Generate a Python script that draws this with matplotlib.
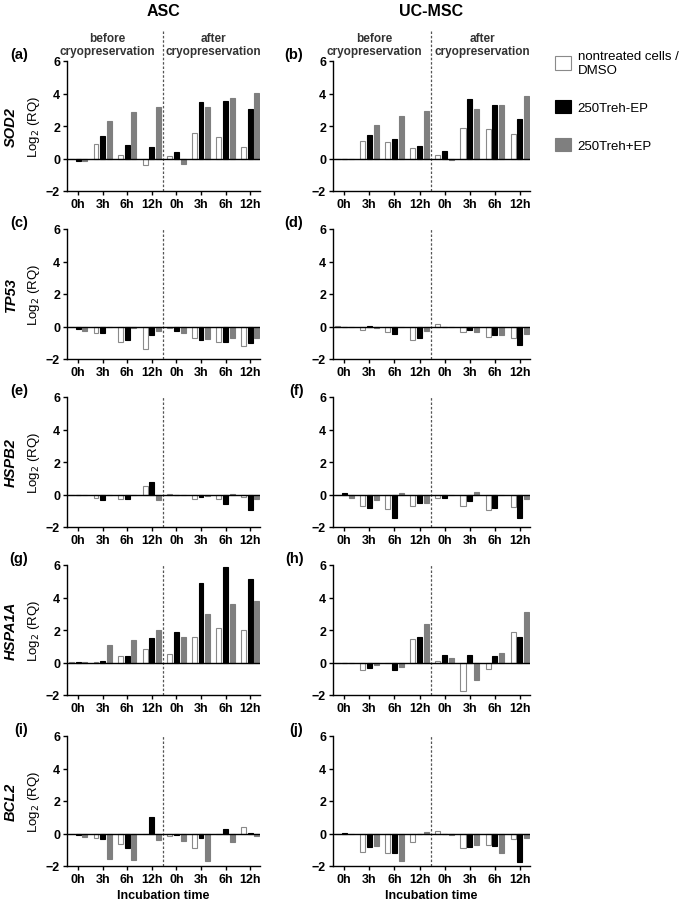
import matplotlib.pyplot as plt
import numpy as np
from matplotlib.patches import Patch

plt.rcParams['font.family'] = ['Liberation Sans', 'DejaVu Sans']

groups = ['0h', '3h', '6h', '12h', '0h', '3h', '6h', '12h']
series = ['nontreated cells /\nDMSO', '250Treh-EP', '250Treh+EP']
genes = ['SOD2', 'TP53', 'HSPB2', 'HSPA1A', 'BCL2']
letters = ['a', 'b', 'c', 'd', 'e', 'f', 'g', 'h', 'i', 'j']

# values per gene: ASC (white, black, gray), UC-MSC (white, black, gray)
sod2_asc_white = [0.0, 0.92, 0.22, -0.37, 0.17, 1.6, 1.32, 0.72]
sod2_asc_black = [-0.18, 1.38, 0.83, 0.72, 0.38, 3.5, 3.52, 3.04]
sod2_asc_gray = [-0.18, 2.32, 2.85, 3.2, -0.35, 3.16, 3.74, 4.02]
sod2_uc_white = [0.0, 1.07, 0.99, 0.62, 0.23, 1.87, 1.79, 1.5]
sod2_uc_black = [0.0, 1.42, 1.23, 0.8, 0.49, 3.65, 3.29, 2.46]
sod2_uc_gray = [-0.05, 2.09, 2.59, 2.94, -0.1, 3.02, 3.29, 3.86]

tp53_asc_white = [0.0, -0.4, -0.96, -1.39, -0.1, -0.7, -0.96, -1.2]
tp53_asc_black = [-0.16, -0.4, -0.86, -0.55, -0.3, -0.8, -0.95, -1.0]
tp53_asc_gray = [-0.25, 0.0, -0.08, -0.28, -0.4, -0.78, -0.72, -0.7]
tp53_uc_white = [0.03, -0.2, -0.35, -0.85, 0.18, -0.35, -0.65, -0.7]
tp53_uc_black = [-0.05, 0.05, -0.45, -0.72, 0.0, -0.22, -0.55, -1.15]
tp53_uc_gray = [-0.03, -0.08, -0.05, -0.3, 0.0, -0.35, -0.52, -0.48]

hspb2_asc_white = [0.0, -0.2, -0.25, 0.55, 0.02, -0.25, -0.25, -0.18]
hspb2_asc_black = [-0.03, -0.35, -0.3, 0.75, 0.0, -0.18, -0.6, -0.95]
hspb2_asc_gray = [0.0, 0.0, -0.05, -0.35, 0.0, -0.12, 0.03, -0.3]
hspb2_uc_white = [0.0, -0.72, -0.9, -0.72, -0.2, -0.7, -0.95, -0.75]
hspb2_uc_black = [0.1, -0.8, -1.45, -0.52, -0.22, -0.38, -0.85, -1.45]
hspb2_uc_gray = [-0.2, -0.35, 0.1, -0.5, 0.0, 0.18, -0.05, -0.25]

hspa1a_asc_white = [0.02, 0.05, 0.38, 0.82, 0.52, 1.55, 2.13, 2.0]
hspa1a_asc_black = [0.04, 0.12, 0.4, 1.48, 1.85, 4.87, 5.88, 5.15]
hspa1a_asc_gray = [0.02, 1.08, 1.4, 1.97, 1.57, 2.97, 3.6, 3.8]
hspa1a_uc_white = [0.0, -0.48, -0.03, 1.45, 0.1, -1.78, -0.42, 1.9]
hspa1a_uc_black = [0.0, -0.35, -0.45, 1.55, 0.47, 0.45, 0.42, 1.55]
hspa1a_uc_gray = [-0.03, -0.15, -0.28, 2.35, 0.28, -1.05, 0.57, 3.1]

bcl2_asc_white = [0.0, -0.25, -0.65, 0.0, -0.15, -0.9, -0.05, 0.38]
bcl2_asc_black = [-0.1, -0.35, -0.92, 1.0, -0.1, -0.28, 0.28, 0.05]
bcl2_asc_gray = [-0.2, -1.55, -1.65, -0.4, -0.45, -1.7, -0.55, -0.15]
bcl2_uc_white = [0.0, -1.15, -1.22, -0.55, 0.15, -0.88, -0.7, -0.32]
bcl2_uc_black = [0.05, -0.8, -1.22, -0.03, 0.0, -0.85, -0.75, -1.75]
bcl2_uc_gray = [-0.05, -0.75, -1.7, 0.1, -0.08, -0.72, -1.2, -0.28]

data = [
    [(sod2_asc_white, sod2_asc_black, sod2_asc_gray), (sod2_uc_white, sod2_uc_black, sod2_uc_gray)],
    [(tp53_asc_white, tp53_asc_black, tp53_asc_gray), (tp53_uc_white, tp53_uc_black, tp53_uc_gray)],
    [(hspb2_asc_white, hspb2_asc_black, hspb2_asc_gray), (hspb2_uc_white, hspb2_uc_black, hspb2_uc_gray)],
    [(hspa1a_asc_white, hspa1a_asc_black, hspa1a_asc_gray), (hspa1a_uc_white, hspa1a_uc_black, hspa1a_uc_gray)],
    [(bcl2_asc_white, bcl2_asc_black, bcl2_asc_gray), (bcl2_uc_white, bcl2_uc_black, bcl2_uc_gray)],
]

faces = ['white', 'black', '#7f7f7f']
edges = ['#8a8a8a', 'black', '#7f7f7f']
offsets = [-0.27, 0.0, 0.27]

W, H = 685, 903
fig = plt.figure(figsize=(W / 100, H / 100), dpi=100)

col_left = [67, 333]
col_width = [193, 197]
row_top = [62, 230, 398, 566, 737]
ax_h = 130
x = np.arange(len(groups))

for r in range(5):
    for c in range(2):
        ax = fig.add_axes([col_left[c] / W, 1 - (row_top[r] + ax_h) / H,
                           col_width[c] / W, ax_h / H])
        for k in range(3):
            ax.bar(x + offsets[k], data[r][c][k], width=0.2, color=faces[k],
                   edgecolor=edges[k], linewidth=0.8, zorder=2)
        ax.axhline(0, color='black', lw=1.0, zorder=3)
        # before / after separator (row 1 goes up between the headings)
        top = 7.9 if r == 0 else 6
        ax.plot([3.45, 3.45], [-2, top], color='#555555', lw=0.9,
                ls=(0, (2, 1.5)), zorder=1, clip_on=False)
        ax.set_xlim(-0.45, 7.4)
        ax.set_ylim(-2, 6)
        ax.set_yticks([-2, 0, 2, 4, 6])
        ax.set_xticks(x)
        ax.set_xticklabels(groups)
        for s in ['top', 'right']:
            ax.spines[s].set_visible(False)
        for s in ['left', 'bottom']:
            ax.spines[s].set_linewidth(1.0)
        ax.tick_params(length=3, width=1, labelsize=9, pad=2)
        for lab in ax.get_xticklabels() + ax.get_yticklabels():
            lab.set_fontweight('bold')
        ax.text(-0.2 if c == 0 else -0.15, 1.0, '(' + letters[2 * r + c] + ')',
                transform=ax.transAxes, fontsize=10.5, fontweight='bold',
                ha='right', va='bottom')
        if c == 0:
            ax.set_ylabel('Log$_2$ (RQ)', fontsize=9.5, labelpad=3)
            ax.text(-0.29, 0.5, genes[r], transform=ax.transAxes, rotation=90,
                    fontsize=10.5, fontweight='bold', style='italic',
                    ha='center', va='center')
        if r == 0:
            ax.text(0.21, 1.03, 'before\ncryopreservation', transform=ax.transAxes,
                    fontsize=8.5, fontweight='bold', color='#333333', ha='center', va='bottom',
                    linespacing=1.1)
            ax.text(0.76, 1.03, 'after\ncryopreservation', transform=ax.transAxes,
                    fontsize=8.5, fontweight='bold', color='#333333', ha='center', va='bottom',
                    linespacing=1.1)
            ax.text(0.5, 1.33, 'ASC' if c == 0 else 'UC-MSC', transform=ax.transAxes,
                    fontsize=11.5, fontweight='bold', ha='center', va='bottom')
        if r == 4:
            ax.set_xlabel('Incubation time', fontsize=9, fontweight='bold', labelpad=3)

handles = [Patch(facecolor=faces[k], edgecolor=edges[k], linewidth=0.8) for k in range(3)]
fig.legend(handles, series, loc='upper left', bbox_to_anchor=(550 / W, 1 - 46 / H),
           frameon=False, fontsize=9.5, handlelength=1.2, handleheight=1.2,
           labelspacing=1.8, handletextpad=0.5, borderaxespad=0.0)

fig.savefig('out.png', dpi=100)
